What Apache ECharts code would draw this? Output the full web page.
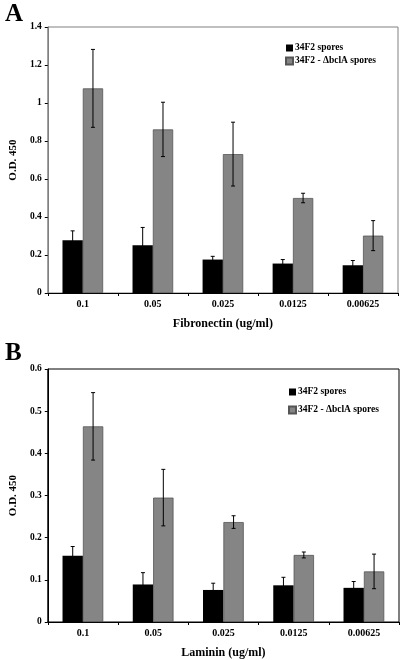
<!DOCTYPE html>
<html><head><meta charset="utf-8">
<script src="https://cdn.jsdelivr.net/npm/echarts@6/dist/echarts.min.js"></script>
<style>html,body{margin:0;padding:0;background:#fff}#c{width:400px;height:660px}</style>
</head><body><div id="c"></div>
<script>
const categories = ['0.1', '0.05', '0.025', '0.0125', '0.00625'];
const seriesNames = ['34F2 spores', '34F2 - \u0394bclA spores'];
// Panel A: Fibronectin
const fnWild = [0.278, 0.251, 0.176, 0.155, 0.146];
const fnWildErr = [0.049, 0.094, 0.017, 0.021, 0.025];
const fnMut = [1.077, 0.861, 0.731, 0.500, 0.302];
const fnMutErr = [0.205, 0.143, 0.168, 0.025, 0.079];
// Panel B: Laminin
const lmWild = [0.157, 0.089, 0.076, 0.087, 0.081];
const lmWildErr = [0.022, 0.028, 0.016, 0.019, 0.015];
const lmMut = [0.464, 0.295, 0.237, 0.159, 0.120];
const lmMutErr = [0.080, 0.067, 0.015, 0.007, 0.041];
const yTicksA = {min: 0, max: 1.4, interval: 0.2};
const yTicksB = {min: 0, max: 0.6, interval: 0.1};

const FONT = 'Liberation Serif';
const GAP = 0.42;

function errSeries(vals, errs, axisIdx, side) {
  return {
    type: 'custom', xAxisIndex: axisIdx, yAxisIndex: axisIdx, z: 10,
    data: vals.map((v, i) => [i, v, errs[i]]),
    renderItem: function (params, api) {
      const i = api.value(0), v = api.value(1), e = api.value(2);
      const band = api.size([1, 0])[0];
      const bw = band * (1 - GAP) / 2;
      const c = api.coord([i, v]);
      const x = c[0] + side * bw / 2;
      const yt = api.coord([i, v + e])[1];
      const yb = api.coord([i, v - e])[1];
      const cap = 2;
      const st = {stroke: '#000', lineWidth: 1};
      return {type: 'group', children: [
        {type: 'line', shape: {x1: x, y1: yt, x2: x, y2: yb}, style: st},
        {type: 'line', shape: {x1: x - cap, y1: yt, x2: x + cap, y2: yt}, style: st},
        {type: 'line', shape: {x1: x - cap, y1: yb, x2: x + cap, y2: yb}, style: st}
      ]};
    }
  };
}

function barSeries(name, vals, axisIdx, color) {
  return {
    name: name, type: 'bar', xAxisIndex: axisIdx, yAxisIndex: axisIdx,
    data: vals, barGap: '0%', barCategoryGap: (GAP * 100) + '%',
    itemStyle: {color: color, borderColor: color === '#000' ? '#000' : '#555', borderWidth: color === '#000' ? 0 : 0.8},
    animation: false
  };
}

function xAxis(gridIdx, name, color) {
  return {
    type: 'category', gridIndex: gridIdx, data: categories,
    name: name, nameLocation: 'middle', nameGap: 25,
    nameTextStyle: {fontFamily: FONT, fontWeight: 'bold', fontSize: 12, color: '#000'},
    axisLine: {lineStyle: {color: color, width: 1}},
    axisTick: {show: true, length: 3, lineStyle: {color: '#000'}},
    axisLabel: {fontFamily: FONT, fontWeight: 'bold', fontSize: 10, color: '#000', margin: 6},
    splitLine: {show: false}
  };
}
function yAxis(gridIdx, t, color) {
  return {
    type: 'value', gridIndex: gridIdx, min: t.min, max: t.max, interval: t.interval,
    name: 'O.D. 450', nameLocation: 'middle', nameGap: 24,
    nameTextStyle: {fontFamily: FONT, fontWeight: 'bold', fontSize: 11, color: '#000'},
    axisLine: {show: true, lineStyle: {color: color, width: 1}},
    axisTick: {show: true, length: 3, lineStyle: {color: '#000'}},
    axisLabel: {fontFamily: FONT, fontWeight: 'bold', fontSize: 9.5, color: '#000', margin: 6},
    splitLine: {show: false}
  };
}

const legendText = {fontFamily: FONT, fontWeight: 'bold', fontSize: 9.5, color: '#000', padding: [0, 0, 0, -3]};
const chart = echarts.init(document.getElementById('c'), null, {renderer: 'canvas'});
chart.setOption({
  animation: false,
  backgroundColor: '#fff',
  title: [
    {text: 'A', left: 0, top: -3, textStyle: {fontFamily: FONT, fontWeight: 'bold', fontSize: 25, color: '#000'}},
    {text: 'B', left: 0, top: 336, textStyle: {fontFamily: FONT, fontWeight: 'bold', fontSize: 25, color: '#000'}}
  ],
  legend: [
    {data: seriesNames, orient: 'vertical', left: 285, top: 43, itemWidth: 7, itemHeight: 7, itemGap: 3,
     textStyle: legendText, icon: 'rect', padding: 0},
    {data: seriesNames, orient: 'vertical', left: 288, top: 387, itemWidth: 7, itemHeight: 7, itemGap: 8,
     textStyle: legendText, icon: 'rect', padding: 0}
  ],
  grid: [
    {left: 34, top: 27, width: 364, height: 266, show: true, borderColor: '#808080', borderWidth: 1},
    {left: 33, top: 369, width: 366, height: 260, show: true, borderColor: '#000', borderWidth: 1}
  ],
  xAxis: [xAxis(0, 'Fibronectin (ug/ml)', '#000'), xAxis(1, 'Laminin (ug/ml)', '#000')],
  yAxis: [yAxis(0, yTicksA, '#808080'), yAxis(1, yTicksB, '#000')],
  series: [
    barSeries(seriesNames[0], fnWild, 0, '#000'),
    barSeries(seriesNames[1], fnMut, 0, '#858585'),
    barSeries(seriesNames[0], lmWild, 1, '#000'),
    barSeries(seriesNames[1], lmMut, 1, '#858585'),
    errSeries(fnWild, fnWildErr, 0, -1),
    errSeries(fnMut, fnMutErr, 0, 1),
    errSeries(lmWild, lmWildErr, 1, -1),
    errSeries(lmMut, lmMutErr, 1, 1)
  ]
});
</script></body></html>
